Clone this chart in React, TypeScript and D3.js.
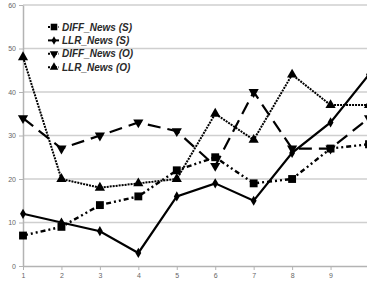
import * as d3 from "d3";
import { useEffect, useRef } from "react";

const categories = [1, 2, 3, 4, 5, 6, 7, 8, 9, 10];
const tickLabels = ["1", "2", "3", "4", "5", "6", "7", "8", "9"];
const yTicks = [0, 10, 20, 30, 40, 50, 60];

const diffNewsS = [7, 9, 14, 16, 22, 25, 19, 20, 27, 28];
const llrNewsS = [12, 10, 8, 3, 16, 19, 15, 26, 33, 44];
const diffNewsO = [34, 27, 30, 33, 31, 23, 40, 27, 27, 34];
const llrNewsO = [48, 20, 18, 19, 20, 35, 29, 44, 37, 37];

const seriesNames = ["DIFF_News (S)", "LLR_News (S)", "DIFF_News (O)", "LLR_News (O)"];

export default function App() {
    const ref = useRef<SVGSVGElement>(null);

    useEffect(() => {
        const width = 367;
        const svg = d3.select(ref.current);
        svg.selectAll("*").remove();

        const X = d3.scaleLinear().domain([1, 10]).range([23, 369]);
        const Y = d3.scaleLinear().domain([0, 60]).range([266, 5]);

        // grid
        svg.append("g")
            .selectAll("line")
            .data(yTicks.slice(1))
            .join("line")
            .attr("x1", 23)
            .attr("x2", width)
            .attr("y1", (d) => Y(d))
            .attr("y2", (d) => Y(d))
            .attr("stroke", "#cfcfcf")
            .attr("stroke-width", 1.5);

        // axes
        const gx = svg.append("g")
            .attr("transform", `translate(0,${Y(0)})`)
            .call(
                d3.axisBottom(X)
                    .tickValues(categories.slice(0, 9))
                    .tickFormat((d, i) => tickLabels[i])
                    .tickSize(4)
                    .tickSizeOuter(0)
                    .tickPadding(3)
            );
        gx.select(".domain").attr("stroke", "#b3b3b3").attr("stroke-width", 1.5);
        gx.selectAll(".tick line").attr("stroke", "#b3b3b3");
        gx.selectAll("text").attr("fill", "#666").style("font-size", "7px").style("font-family", "Liberation Sans, Arial");

        const gy = svg.append("g")
            .attr("transform", `translate(23,0)`)
            .call(
                d3.axisLeft(Y)
                    .tickValues(yTicks)
                    .tickSize(4)
                    .tickSizeOuter(0)
                    .tickPadding(3)
            );
        gy.select(".domain").attr("stroke", "#b3b3b3").attr("stroke-width", 1.5);
        gy.selectAll(".tick line").attr("stroke", "#b3b3b3");
        gy.selectAll("text").attr("fill", "#666").style("font-size", "7px").style("font-family", "Liberation Sans, Arial");

        const series = [
            { name: seriesNames[0], values: diffNewsS, dash: "5,3,2,3,2,3", width: 2.4, sym: d3.symbolSquare, size: 62 },
            { name: seriesNames[1], values: llrNewsS, dash: null, width: 2.2, sym: d3.symbolDiamond, size: 30 },
            { name: seriesNames[2], values: diffNewsO, dash: "13,7", width: 2.2, sym: "down", size: 45 },
            { name: seriesNames[3], values: llrNewsO, dash: "2,1", width: 2, sym: d3.symbolTriangle, size: 45 },
        ];

        const line = d3.line<number>()
            .x((d, i) => X(categories[i]))
            .y((d) => Y(d));

        const symbolPath = (s: any, k = 1) => {
            if (s.sym === "down") return d3.symbol(d3.symbolTriangle, s.size * k)();
            return d3.symbol(s.sym, s.size * k)();
        };
        const symbolRot = (s: any) => (s.sym === "down" ? " rotate(180)" : "");

        series.forEach((s) => {
            svg.append("path")
                .datum(s.values)
                .attr("d", line)
                .attr("fill", "none")
                .attr("stroke", "#000")
                .attr("stroke-width", s.width)
                .attr("stroke-dasharray", s.dash);

            svg.append("g")
                .selectAll("path")
                .data(s.values)
                .join("path")
                .attr("d", symbolPath(s))
                .attr("transform", (d, i) => `translate(${X(categories[i])},${Y(d)})${symbolRot(s)}`)
                .attr("fill", "#000");
        });

        // legend
        const legend = svg.append("g").attr("transform", "translate(48,27)");
        series.forEach((s, i) => {
            const g = legend.append("g").attr("transform", `translate(0,${i * 13.4})`);
            g.append("line")
                .attr("x1", 0)
                .attr("x2", 11)
                .attr("stroke", "#000")
                .attr("stroke-width", 2)
                .attr("stroke-dasharray", s.dash ? "2,1.5" : null);
            g.append("path")
                .attr("d", symbolPath(s, 0.7))
                .attr("transform", `translate(6,0)${symbolRot(s)}`)
                .attr("fill", "#000");
            g.append("text")
                .text(s.name)
                .attr("x", 14)
                .attr("y", 3.5)
                .attr("fill", "#2a2a2a")
                .style("font-size", "10px")
                .style("font-weight", "bold")
                .style("font-style", "italic")
                .style("font-family", "Liberation Sans, Arial");
        });
    }, []);

    return (
        <svg
            ref={ref}
            width={367}
            height={283}
            style={{ position: "absolute", left: 0, top: 0, background: "#fff" }}
        ></svg>
    );
}
